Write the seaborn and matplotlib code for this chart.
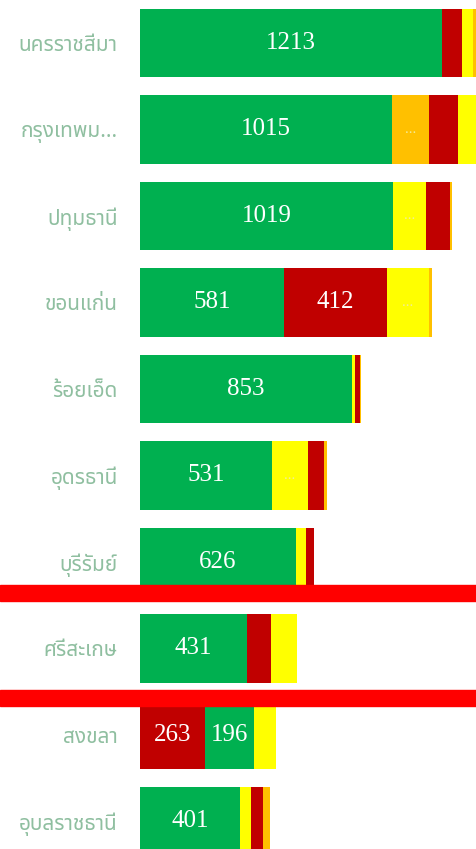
import matplotlib
matplotlib.use('Agg')
import matplotlib.pyplot as plt
from matplotlib.patches import Rectangle
import pandas as pd
import seaborn as sns

# Provinces, top to bottom
provinces = ['นครราชสีมา', 'กรุงเทพม...', 'ปทุมธานี', 'ขอนแก่น', 'ร้อยเอ็ด',
             'อุดรธานี', 'บุรีรัมย์', 'ศรีสะเกษ', 'สงขลา', 'อุบลราชธานี']

# Segments of each bar, left to right (status, value)
segments = [
    [('green', 1213), ('red', 80), ('yellow', 44), ('orange', 30)],
    [('green', 1015), ('orange', 149), ('red', 113), ('yellow', 90)],
    [('green', 1019), ('yellow', 129), ('red', 100), ('orange', 8)],
    [('green', 581), ('red', 412), ('yellow', 169), ('orange', 12)],
    [('green', 853), ('yellow', 10), ('red', 20), ('orange', 4)],
    [('green', 531), ('yellow', 145), ('red', 64), ('orange', 12)],
    [('green', 626), ('yellow', 40), ('red', 32)],
    [('green', 431), ('red', 97), ('yellow', 105)],
    [('red', 263), ('green', 196), ('yellow', 88)],
    [('green', 401), ('yellow', 44), ('red', 48), ('orange', 28)],
]

palette = {'green': '#00b050', 'red': '#c00000',
           'yellow': '#ffff00', 'orange': '#ffc000'}

rows = []
for prov, segs in zip(provinces, segments):
    start = 0
    for pos, (status, val) in enumerate(segs):
        rows.append(dict(province=prov, pos=pos, status=status,
                         value=val, start=start, end=start + val))
        start += val
df = pd.DataFrame(rows)

fig = plt.figure(figsize=(4.77, 8.49), dpi=100)
ax = fig.add_axes([140 / 477, 0, 337 / 477, 1])

# Draw the outermost layer first, then overlay the inner ones
for pos in sorted(df['pos'].unique(), reverse=True):
    layer = df[df['pos'] == pos]
    sns.barplot(data=layer, x='end', y='province', hue='status',
                palette=palette, order=provinces, dodge=False,
                saturation=1, width=0.79, legend=False, ax=ax)

ax.set_xlim(0, 337 / 0.2487)
ax.set_ylim(9.318, -0.497)
ax.set_xlabel('')
ax.set_ylabel('')
ax.set_xticks([])
sns.despine(ax=ax, left=True, bottom=True)
ax.tick_params(axis='y', length=0, pad=16)
for lbl in ax.get_yticklabels():
    lbl.set_family(['Noto Sans Thai', 'Tahoma', 'DejaVu Sans'])
    lbl.set_color('#8fbfa0')
    lbl.set_fontsize(15)

# Value labels inside the bars; small yellow/orange parts only get "..."
yidx = {p: i for i, p in enumerate(provinces)}
for _, r in df.iterrows():
    x = (r['start'] + r['end']) / 2
    y = yidx[r['province']]
    if r['value'] >= 190:
        ax.text(x, y, str(r['value']), ha='center', va='center',
                color='white', fontsize=18, family='Liberation Serif')
    elif r['status'] in ('yellow', 'orange') and r['value'] >= 120:
        ax.text(x, y, '...', ha='center', va='center',
                color='#f3ec9c', fontsize=11, family='Liberation Serif')

# Red highlight strips around ศรีสะเกษ
for ytop in (585, 690):
    fig.add_artist(Rectangle((0, 1 - (ytop + 16) / 849), 1, 16 / 849,
                             transform=fig.transFigure, color='#ff0000',
                             zorder=10))

plt.savefig('out.png', dpi=100)
